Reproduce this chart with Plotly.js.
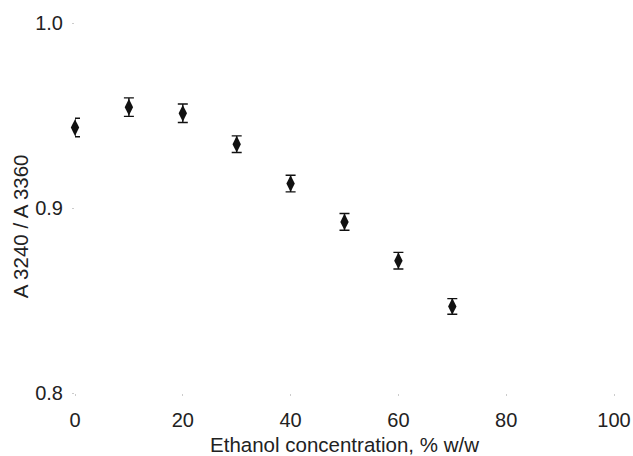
<!DOCTYPE html>
<html>
<head>
<meta charset="utf-8">
<script src="https://cdn.plot.ly/plotly-3.0.1.min.js"></script>
<style>html,body{margin:0;padding:0;background:#fff;}#chart{width:633px;height:456px;}</style>
</head>
<body>
<div id="chart"></div>
<script>
const ethanol = [0, 10, 20, 30, 40, 50, 60, 70];
const ratio = [0.9435, 0.9545, 0.9512, 0.9345, 0.9132, 0.8925, 0.8715, 0.8468];
const ratioErr = [0.005, 0.005, 0.005, 0.0045, 0.0045, 0.0045, 0.0045, 0.0042];
const xTicks = [0, 20, 40, 60, 80, 100];
const yTicks = [0.8, 0.9, 1.0];
const yTickText = ['0.8', '0.9', '1.0'];
const xTitle = 'Ethanol concentration, % w/w';
const yTitle = 'A 3240 / A 3360';

const font = {family: 'Liberation Sans, Arial, sans-serif', size: 20, color: '#222'};

Plotly.newPlot('chart', [{
  x: ethanol,
  y: ratio,
  type: 'scatter',
  mode: 'markers',
  cliponaxis: false,
  marker: {symbol: 'diamond-tall', size: 12, color: '#111'},
  error_y: {type: 'data', array: ratioErr, visible: true, color: '#111', thickness: 1.4, width: 5}
}], {
  width: 633, height: 456,
  margin: {l: 75, r: 19, t: 23, b: 63},
  paper_bgcolor: '#fff', plot_bgcolor: '#fff',
  showlegend: false,
  font: font,
  xaxis: {
    range: [0, 100], tickvals: xTicks, ticktext: xTicks.map(String),
    showgrid: false, zeroline: false, showline: false,
    ticks: 'outside', ticklen: 2, tickcolor: '#ccc', tickwidth: 1,
    ticklabelstandoff: 7,
    tickfont: font,
    title: {text: xTitle, font: {family: font.family, size: 20.5, color: '#222'}, standoff: 10}
  },
  yaxis: {
    range: [0.8, 1.0], tickvals: yTicks, ticktext: yTickText,
    showgrid: false, zeroline: false, showline: false,
    ticks: 'outside', ticklen: 2, tickcolor: '#ccc', tickwidth: 1,
    ticklabelstandoff: 5,
    tickfont: font
  },
  annotations: [{
    text: yTitle, textangle: -90, showarrow: false,
    xref: 'paper', yref: 'paper', x: 0, y: 0.451, xshift: -55,
    xanchor: 'center', yanchor: 'middle',
    font: {family: font.family, size: 20.5, color: '#222'}
  }]
}, {displayModeBar: false, staticPlot: true});
</script>
</body>
</html>
